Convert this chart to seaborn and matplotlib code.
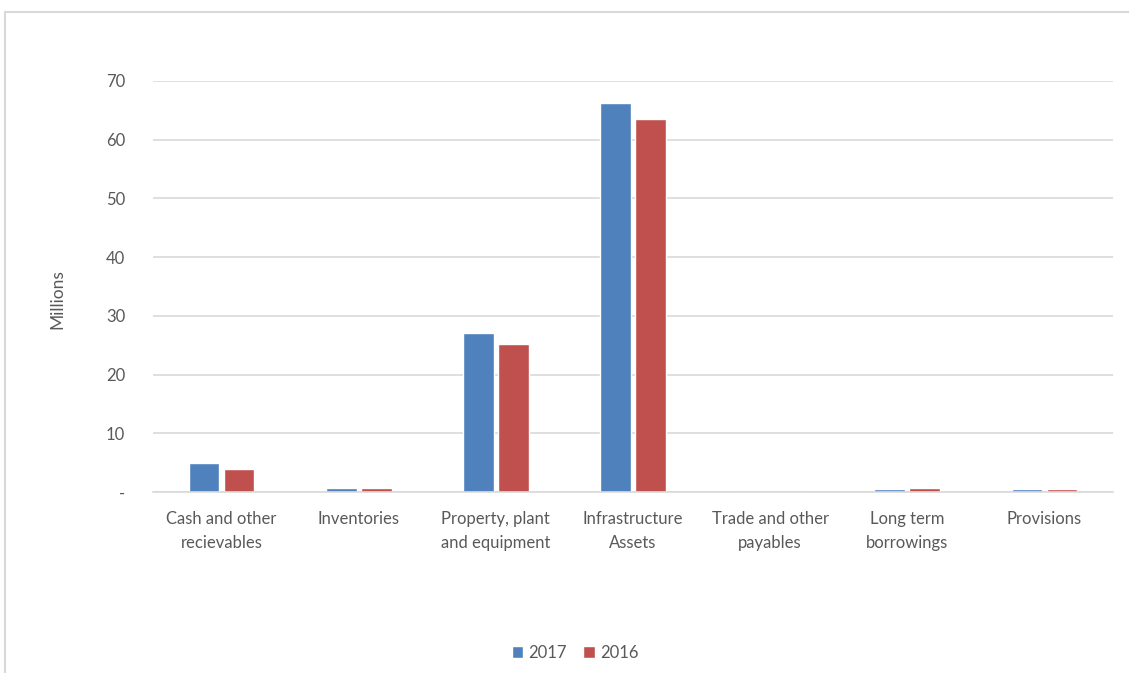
import pandas as pd
import matplotlib.pyplot as plt
import seaborn as sns
from matplotlib.patches import Rectangle

categories = ["Cash and other\nrecievables", "Inventories", "Property, plant\nand equipment",
              "Infrastructure\nAssets", "Trade and other\npayables", "Long term\nborrowings", "Provisions"]
years = ["2017", "2016"]
values_2017 = [5.0, 0.7, 27.1, 66.2, 0.0, 0.5, 0.45]
values_2016 = [3.9, 0.7, 25.2, 63.5, 0.0, 0.7, 0.45]
y_ticks = [0, 10, 20, 30, 40, 50, 60, 70]
y_tick_labels = ["-", "10", "20", "30", "40", "50", "60", "70"]

df = pd.DataFrame({
    "Category": categories * 2,
    "Year": ["2017"] * len(categories) + ["2016"] * len(categories),
    "Value": values_2017 + values_2016,
})

sns.set_style("white")
plt.rcParams["font.family"] = ["Lato", "DejaVu Sans"]
text_color = "#595959"

fig = plt.figure(figsize=(11.29, 6.73), dpi=100)
ax = fig.add_axes([153 / 1129, 1 - 492 / 673, 960 / 1129, 411 / 673])

sns.barplot(data=df, x="Category", y="Value", hue="Year", hue_order=years,
            palette=["#4F81BD", "#C0504D"], width=0.51, gap=0.12,
            saturation=1, ax=ax, legend=True)

ax.set_ylim(0, 70)
ax.set_xlim(-0.5, len(categories) - 0.5)
ax.set_yticks(y_ticks)
ax.set_yticklabels(y_tick_labels)
ax.yaxis.grid(True, color="#D9D9D9", linewidth=1.2)
ax.set_axisbelow(True)
for side in ["top", "right", "left"]:
    ax.spines[side].set_visible(False)
ax.spines["bottom"].set_color("#D9D9D9")
ax.spines["bottom"].set_linewidth(1.2)
ax.tick_params(axis="both", length=0, colors=text_color, labelsize=12)
ax.tick_params(axis="y", pad=20)
ax.tick_params(axis="x", pad=14)
for lbl in ax.get_xticklabels():
    lbl.set_linespacing(1.55)
ax.set_xlabel("")
ax.set_ylabel("Millions", color=text_color, fontsize=12.5)
ax.yaxis.set_label_coords(-88 / 960, 0.469)

ax.legend(loc="center", bbox_to_anchor=(575 / 1129, 1 - 653 / 673),
          bbox_transform=fig.transFigure, ncol=2, frameon=False,
          handlelength=0.7, handleheight=0.7, handletextpad=0.3,
          columnspacing=1.0, fontsize=12, labelcolor=text_color)

fig.patches.append(Rectangle((5 / 1129, -0.1), 1.2, 1 - 12 / 673 + 0.1,
                             transform=fig.transFigure, fill=False,
                             edgecolor="#D9D9D9", linewidth=1.5))

plt.savefig("out.png", dpi=100)
